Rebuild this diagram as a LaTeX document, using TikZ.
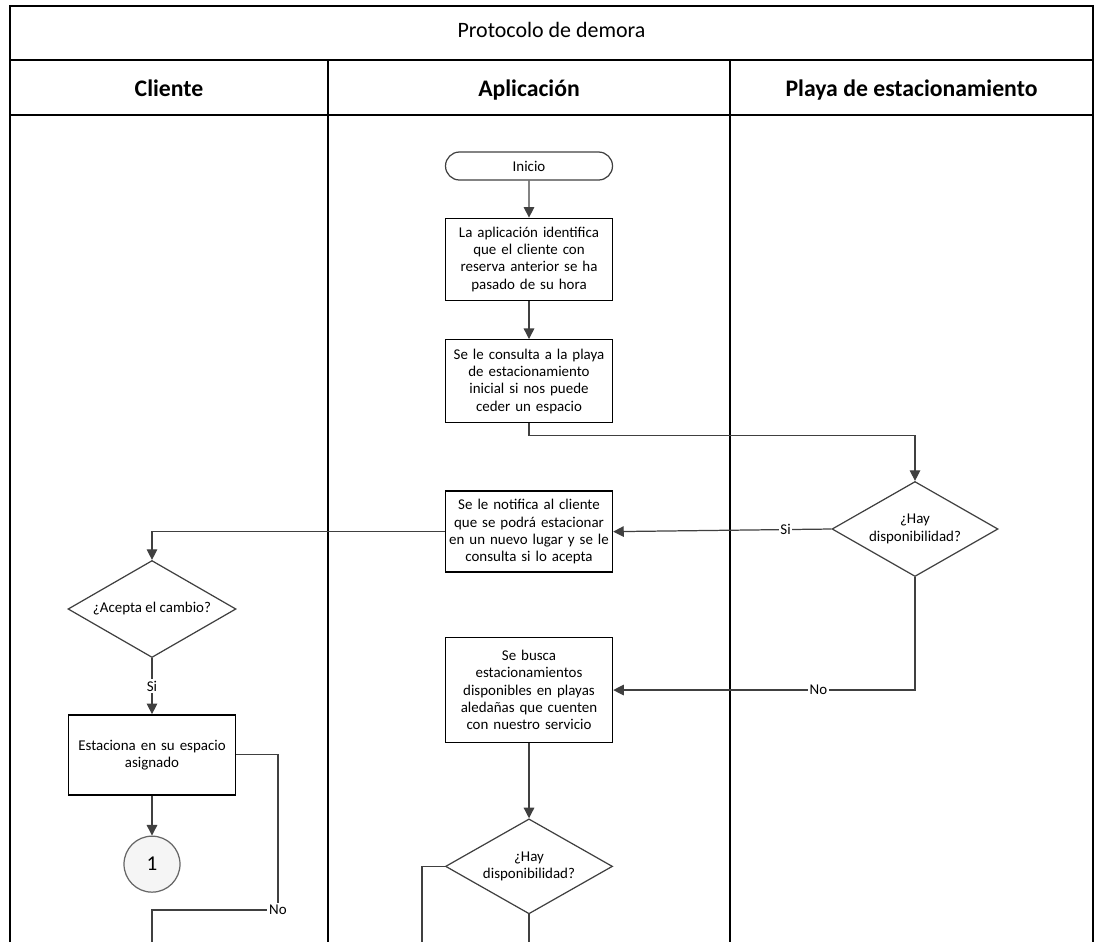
\documentclass[tikz,border=0pt]{standalone}
\usepackage{fontspec}
\setmainfont{Carlito}
\usetikzlibrary{shapes.geometric,shapes.misc,arrows.meta,positioning}

\begin{document}
\begin{tikzpicture}[font=\fontsize{8.5}{9.8}\selectfont, >={Triangle[length=6pt,width=6pt]},
    proceso/.style={draw=black, line width=0.8pt, minimum width=3.34cm, text width=3.2cm, align=center, inner sep=1pt},
    decision/.style={draw=black!75, line width=0.7pt, diamond, aspect=1.75, minimum width=3.34cm, minimum height=1.9cm, inner sep=0pt, align=center},
    flecha/.style={draw=black!75, line width=0.7pt},
    etiq/.style={fill=white, inner sep=1pt},
    carril/.style={draw=black, line width=0.7pt},
    titulo/.style={font=\fontsize{12.5}{14}\selectfont},
    cabecera/.style={font=\fontsize{13.5}{16}\selectfont\bfseries, anchor=base}]
    \useasboundingbox (0,0) rectangle (21.92,-18.84);

    \draw[carril] (0.2,-18.84) -- (0.2,-0.12) -- (21.86,-0.12) -- (21.86,-18.84);
    \draw[carril] (0.2,-1.2) -- (21.86,-1.2);
    \draw[carril] (0.2,-2.3) -- (21.86,-2.3);
    \draw[carril] (6.56,-1.2) -- (6.56,-18.84);
    \draw[carril] (14.6,-1.2) -- (14.6,-18.84);

    \node[titulo] (tit) at (11.03,-0.6) {Protocolo de demora};
    \node[cabecera] (cli) at (3.38,-1.92) {Cliente};
    \node[cabecera] (app) at (10.58,-1.92) {Aplicación};
    \node[cabecera] (pla) at (18.23,-1.92) {Playa de estacionamiento};

    \node[draw=black!75, line width=0.7pt, rounded rectangle, minimum width=3.34cm, minimum height=0.56cm, inner sep=0pt] (inicio) at (10.58,-3.32) {Inicio};
    \node[proceso, minimum height=1.64cm, below=0.74cm of inicio] (identifica) {La aplicación identifica\\que el cliente con\\reserva anterior se ha\\pasado de su hora};
    \node[proceso, minimum height=1.66cm, below=0.76cm of identifica] (consulta) {Se le consulta a la playa\\de estacionamiento\\inicial si nos puede\\ceder un espacio};
    \node[proceso, minimum height=1.62cm, below=1.34cm of consulta] (notifica) {Se le notifica al cliente\\que se podrá estacionar\\en un nuevo lugar y se le\\consulta si lo acepta};
    \node[proceso, minimum height=2.1cm, below=1.28cm of notifica] (busca) {Se busca\\estacionamientos\\disponibles en playas\\aledañas que cuenten\\con nuestro servicio};
    \node[decision, below=1.5cm of busca] (dispo2) {¿Hay\\disponibilidad?};

    \node[decision, minimum width=3.32cm] (dispo1) at (18.3,-10.58) {¿Hay\\disponibilidad?};

    \node[decision, minimum width=3.36cm, minimum height=1.94cm] (acepta) at (3.04,-12.18) {¿Acepta el cambio?};
    \node[proceso, minimum height=1.6cm, below=1.12cm of acepta] (estaciona) {Estaciona en su espacio\\asignado\\[0.35cm]};
    \node[circle, draw=black!60, line width=0.7pt, fill=gray!8, minimum size=1.12cm, font=\fontsize{12}{14}\selectfont, below=0.8cm of estaciona] (uno) {1};

    \coordinate (noA) at (5.56,-18.2);
    \coordinate (finA) at (3.04,-18.84);
    \coordinate (finB) at (8.44,-18.84);
    \coordinate (finC) at (10.58,-18.84);

    \draw[flecha, ->] (inicio) -- (identifica);
    \draw[flecha, ->] (identifica) -- (consulta);
    \draw[flecha, ->] (consulta.south) -- ++(0,-0.24) -| (dispo1.north);
    \draw[flecha, ->] (dispo1.west) -- node[etiq, pos=0.21] {Si} (notifica.east);
    \draw[flecha, ->] (notifica.west) -| (acepta.north);
    \draw[flecha, ->] (acepta.south) -- node[etiq] {Si} (estaciona.north);
    \draw[flecha, ->] (estaciona) -- (uno);
    \draw[flecha] (estaciona.east) -| (noA) -| (finA);
    \node[etiq] (etiqNo) at (noA) {No};
    \draw[flecha, ->] (dispo1.south) |- node[etiq, pos=0.66] {No} (busca.east);
    \draw[flecha, ->] (busca) -- (dispo2);
    \draw[flecha] (dispo2.west) -| (finB);
    \draw[flecha] (dispo2.south) -- (finC);
\end{tikzpicture}
\end{document}
